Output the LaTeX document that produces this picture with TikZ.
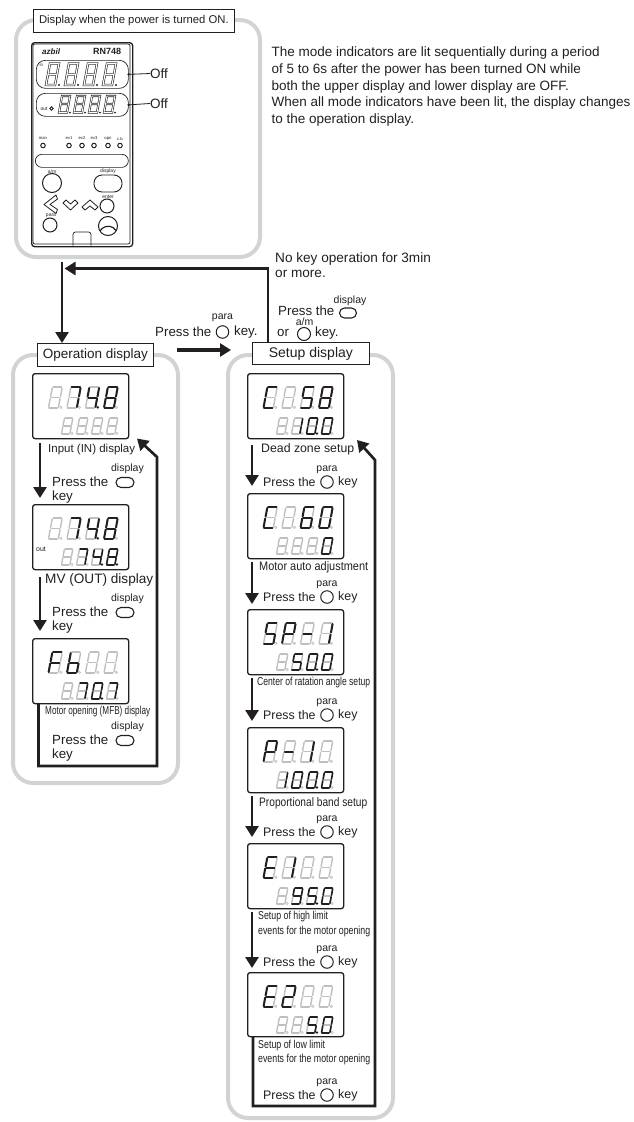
\documentclass[tikz,border=0pt]{standalone}
\usepackage{fontspec}
\usepackage{graphicx}
\setmainfont{Liberation Sans}
\usetikzlibrary{arrows.meta}
\definecolor{panelgray}{HTML}{D2D3D4}
\definecolor{ghost}{HTML}{BDBFC1}
\definecolor{inkk}{HTML}{231F20}
\def\sega{(.12,1)--(.95,1)}
\def\segb{(1.02,.95)--(1.01,.55)}
\def\segc{(1,.45)--(.98,.05)}
\def\segd{(.05,0)--(.88,0)}
\def\sege{(0,.05)--(.01,.45)}
\def\segf{(.02,.55)--(.04,.95)}
\def\segg{(.1,.5)--(.92,.5)}
\def\segp{(1.28,0) circle[radius=.09]}
% #1 x, #2 y (top-left), #3 w, #4 h, #5 slant, #6 lit segments, #7 lit width
\newcommand{\sdigit}[7]{%
  \begin{scope}[shift={(#1,#2+#4)},x={(#3pt,0pt)},y={(#5pt,#4pt)}]
    \foreach \s in {a,b,c,d,e,f,g}{%
      \expandafter\let\expandafter\curseg\csname seg\s\endcsname
      \draw[ghost,line width=1.4pt,line cap=round] \curseg;}
    \draw[ghost,line width=.6pt,fill=white] (1.22,.03) circle[x radius=1.2pt,y radius=1.2pt];
    \foreach \s in {#6}{%
      \expandafter\let\expandafter\curseg\csname seg\s\endcsname
      \ifx\curseg\segp
        \fill[inkk] (1.22,.03) circle[x radius=1.2pt,y radius=1.2pt];
      \else
        \draw[inkk,line width=#7pt,line cap=round] \curseg;
      \fi}
  \end{scope}}
\newcommand{\Up}[6]{%
  \sdigit{#1+16.5}{#2+14}{10}{21}{3.5}{#3}{2}%
  \sdigit{#1+35}{#2+14}{10}{21}{3.5}{#4}{2}%
  \sdigit{#1+53.5}{#2+14}{10}{21}{3.5}{#5}{2}%
  \sdigit{#1+72}{#2+14}{10}{21}{3.5}{#6}{2}}
\newcommand{\Lo}[6]{%
  \sdigit{#1+29.5}{#2+45}{8.5}{16}{2.6}{#3}{1.6}%
  \sdigit{#1+44.5}{#2+45}{8.5}{16}{2.6}{#4}{1.6}%
  \sdigit{#1+59.5}{#2+45}{8.5}{16}{2.6}{#5}{1.6}%
  \sdigit{#1+74.5}{#2+45}{8.5}{16}{2.6}{#6}{1.6}}
\newcommand{\fz}[1]{\fontsize{#1}{#1}\selectfont}
\newcommand{\fit}[3]{\resizebox{#1pt}{\height}{\fz{#2}#3}}
\tikzset{
  x=1pt,y=-1pt,
  panel/.style={draw=panelgray,line width=4pt,rounded corners=20pt},
  labelbox/.style={draw=inkk,line width=.8pt,fill=white,inner sep=0pt,text=inkk},
  dbox/.style={draw=inkk,line width=1.3pt,rounded corners=2.5pt,minimum width=96pt,inner sep=0pt,fill=white},
  txt/.style={text=inkk,inner sep=0pt,anchor=west},
  ctxt/.style={text=inkk,inner sep=0pt,anchor=center},
  key/.style={draw=inkk,line width=1pt,circle,inner sep=0pt,minimum size=#1pt},
  pillkey/.style={draw=inkk,line width=1.1pt,rounded corners=5pt,inner sep=0pt,minimum width=17pt,minimum height=10pt},
  flow/.style={draw=inkk,line width=2.7pt,-{Triangle[length=11pt,width=13pt]},line join=miter},
  dev/.style={draw=inkk,line width=.7pt},
  tiny/.style={text=inkk,inner sep=0pt,font=\fz{5}},
}
\begin{document}
\begin{tikzpicture}
\useasboundingbox (0,0) rectangle (634,1122);
% panels
\draw[panel] (16,20) rectangle (260,257);
\draw[panel] (13,355) rectangle (178,783);
\draw[panel] (228,355) rectangle (393,1118);
% panel titles
\node[labelbox,minimum width=201pt,minimum height=23pt,anchor=north west,font=\fz{11.3}] (ttop) at (33,9) {Display when the power is turned ON.};
\node[labelbox,minimum width=116pt,minimum height=23pt,anchor=north west,font=\fz{13.5}] (top) at (37,343) {Operation display};
\node[labelbox,minimum width=117pt,minimum height=22pt,anchor=north west,font=\fz{14}] (tset) at (252,342) {Setup display};
% device
\node[draw=inkk,line width=1.3pt,rounded corners=3pt,minimum width=101pt,minimum height=204pt,anchor=north west,inner sep=0pt] (device) at (31,42) {};
\draw[dev,rounded corners=2pt] (33,44) rectangle (130,244);
\node[txt,font=\fz{8}\bfseries\itshape] (azbil) at (42,51.5) {azbil};
\node[txt,font=\fz{9}\bfseries] (rn) at (93,51.5) {RN748};
\node[dev,rounded corners=9pt,minimum width=92pt,minimum height=28pt,anchor=north west,inner sep=0pt] (updisp) at (36,60) {};
\node[dev,rounded corners=9pt,minimum width=92pt,minimum height=23pt,anchor=north west,inner sep=0pt] (lodisp) at (36,93) {};
\foreach \xx in {45,64,83,102}{\draw[inkk,line width=.6pt,double=white,double distance=1.1pt]
  (\xx+1,85)--(\xx+10,85)--(\xx+14,63.5)--(\xx+5,63.5)--cycle (\xx+3,74.5)--(\xx+12,74.5);
  \fill[inkk] (\xx+14,85) circle[radius=1.2];}
\foreach \xx in {58,73,88,103}{\draw[inkk,line width=.6pt,double=white,double distance=.9pt]
  (\xx+1,112.5)--(\xx+9,112.5)--(\xx+12,96)--(\xx+4,96)--cycle (\xx+2.5,104)--(\xx+10.5,104);
  \fill[inkk] (\xx+12,112.5) circle[radius=1];}
\node[tiny,font=\fz{4.5}] (lin) at (41.5,65) {in};
\node[tiny,font=\fz{5}] (lout) at (44,109) {out};
\node[key=3.5] (lo) at (51.5,108.5) {};
\node[txt,font=\fz{13.5}] (off1) at (150,73.5) {Off};
\node[txt,font=\fz{13.5}] (off2) at (150,103.5) {Off};
\draw[inkk,line width=.8pt] (updisp.east) -- (off1.west);
\draw[inkk,line width=.8pt] (lodisp.east) -- (off2.west);
\fill[inkk] (updisp.east) circle[radius=1.4] (lodisp.east) circle[radius=1.4];
\foreach \n/\xx/\tt in {man/43/man,eva/69/ev1,evb/82/ev2,evc/94/ev3,opn/108/opn,cb/120/c.b}{
  \node[tiny,font=\fz{4.2}] (t\n) at (\xx,138.5) {\tt};
  \node[key=4.5] (i\n) at (\xx,145.5) {};
}
\node[dev,rounded corners=6.5pt,minimum width=93pt,minimum height=13pt,anchor=north west,inner sep=0pt] (msg) at (35,154) {};
\node[tiny] (tam) at (52,171.5) {a/m};
\node[key=19] (kam) at (52,183) {};
\node[tiny] (tdisp) at (108,171.5) {display};
\node[draw=inkk,line width=.9pt,rounded corners=8pt,minimum width=28pt,minimum height=17pt,inner sep=0pt] (kdisp) at (108,183.5) {};
\draw[inkk,line width=.8pt,line join=round] (56,195)--(44,204.5)--(56,213.5)--(57.5,209.5)--(50,204.5)--(57.5,199)--cycle;
\draw[inkk,line width=.8pt,line join=round] (63,203)--(70.5,210)--(78,203)--(75,200)--(70.5,204)--(66,200)--cycle;
\draw[inkk,line width=.8pt,line join=round] (82,207)--(90,200)--(98,207)--(95,210)--(90,206)--(85,210)--cycle;
\node[tiny] (tent) at (108,196.5) {enter};
\node[key=14] (kent) at (107,206) {};
\node[tiny] (tpara) at (51,216) {para};
\node[key=14] (kpara) at (50,225) {};
\node[key=19] (kbig) at (108,226) {};
\draw[inkk,line width=1.2pt] (100,231) arc[start angle=210,end angle=330,radius=9.5];
\draw[dev,rounded corners=2.5pt] (73,245.5)--(73,232)--(91,232)--(91,245.5);
% description
\node[txt,font=\fz{13.5}] (d1) at (271.5,53.3) {The mode indicators are lit sequentially during a period};
\node[txt,font=\fz{13.5}] (d2) at (271.5,70) {of 5 to 6s after the power has been turned ON while};
\node[txt,font=\fz{13.5}] (d3) at (271.5,86.7) {both the upper display and lower display are OFF.};
\node[txt,font=\fz{13.5}] (d4) at (271.5,103.3) {When all mode indicators have been lit, the display changes};
\node[txt,font=\fz{13.5}] (d5) at (271.5,120) {to the operation display.};
% main arrows and their texts
\coordinate (mstart) at (62,261.5);
\coordinate (mturn) at (268,268.5);
\coordinate (mback) at (64.5,268.5);
\draw[flow] (mstart) -- (62,343);
\draw[flow] (tset.north -| mturn) -- (mturn) -- (mback);
\coordinate (parastart) at (177,350);
\coordinate (paraend) at (231,350);
\draw[flow,line width=3.6pt] (parastart) -- (paraend);
\node[txt,font=\fz{13.6}] (n1) at (275,258.5) {No key operation for 3min};
\node[txt,font=\fz{13.6}] (n2) at (275,274) {or more.};
\node[txt,font=\fz{13.3}] (pa) at (155,332) {Press the};
\node[ctxt,font=\fz{10.5}] (pa2) at (222.5,318) {para};
\node[key=12.5] (pa3) at (222.5,332) {};
\node[txt,font=\fz{13.3}] (pa4) at (234,332) {key.};
\node[txt,font=\fz{13.3}] (pd) at (278,311) {Press the};
\node[ctxt,font=\fz{10.5}] (pd2) at (350,301) {display};
\node[pillkey] (pd3) at (348,313) {};
\node[ctxt,font=\fz{10.5}] (pd4) at (304.5,322) {a/m};
\node[txt,font=\fz{13.3}] (pd5) at (277,333) {or};
\node[key=13] (pd6) at (304,334) {};
\node[txt,font=\fz{13.3}] (pd7) at (315,333) {key.};
% operation frames
\node[dbox,minimum height=65pt,anchor=north west] (o1) at (32,373) {};
\Up{32}{373}{n}{a,b,c}{b,c,f,g,p}{a,b,c,d,e,f,g}
\Lo{32}{373}{n}{n}{n}{n}
\node[dbox,minimum height=65pt,anchor=north west] (o2) at (32,504) {};
\Up{32}{504}{n}{a,b,c}{b,c,f,g,p}{a,b,c,d,e,f,g}
\Lo{32}{504}{n}{a,b,c}{b,c,f,g,p}{a,b,c,d,e,f,g,p}
\node[tiny,font=\fz{7}] (oout) at (41,549) {out};
\node[dbox,minimum height=65pt,anchor=north west] (o3) at (32,638) {};
\Up{32}{638}{a,e,f,g}{c,d,e,f,g}{n}{n}
\Lo{32}{638}{n}{a,b,c}{a,b,c,d,e,f,p}{a,b,c}
\node[txt,font=\fz{11.5}] (ol1) at (48,450) {Input (IN) display};
\node[txt,font=\fz{13.6}] (ol2) at (45,579.5) {MV (OUT) display};
\node[txt] (ol3) at (45,712) {\fit{105}{11.5}{Motor opening (MFB) display}};
\foreach \yy/\nm in {0/a,130/b,258/c}{
  \node[ctxt,font=\fz{10.5}] (odl\nm) at (127.5,469+\yy) {display};
  \node[txt,font=\fz{13.3}] (opr\nm) at (52,482+\yy) {Press the};
  \node[pillkey,minimum width=18pt] (opk\nm) at (125,482.5+\yy) {};
  \node[txt,font=\fz{13.3}] (oke\nm) at (52,497+\yy) {key};
}
\coordinate (oa1s) at (40,443); \coordinate (oa1e) at (40,498);
\coordinate (oa2s) at (40,577); \coordinate (oa2e) at (40,631);
\draw[flow] (oa1s) -- (oa1e);
\draw[flow] (oa2s) -- (oa2e);
\coordinate (ors) at (38.5,703);
\coordinate (orb) at (38.5,766);
\coordinate (orc) at (157,766);
\coordinate (ord) at (157,457);
\coordinate (ore) at (137,438.5);
\draw[flow] (ors) -- (orb) -- (orc) -- (ord) -- (ore);
% setup frames
\foreach \yy/\hh/\nm in {373/65/s1,493/65/s2,609/65/s3,727/65/s4,843/65/s5,972/64/s6}{
  \node[dbox,minimum height=\hh pt,anchor=north west] (\nm) at (247,\yy) {};
}
\Up{247}{373}{a,d,e,f}{n}{a,c,d,f,g}{a,b,c,d,e,f,g}
\Lo{247}{373}{n}{b,c}{a,b,c,d,e,f,p}{a,b,c,d,e,f}
\Up{247}{493}{a,d,e,f}{n}{a,c,d,e,f,g}{a,b,c,d,e,f}
\Lo{247}{493}{n}{n}{n}{a,b,c,d,e,f}
\Up{247}{609}{a,c,d,f,g}{a,b,e,f,g}{g}{b,c}
\Lo{247}{609}{n}{a,c,d,f,g}{a,b,c,d,e,f,p}{a,b,c,d,e,f}
\Up{247}{727}{a,b,e,f,g}{g}{b,c}{n}
\Lo{247}{727}{b,c}{a,b,c,d,e,f}{a,b,c,d,e,f,p}{a,b,c,d,e,f}
\Up{247}{843}{a,d,e,f,g}{b,c}{n}{n}
\Lo{247}{843}{n}{a,b,c,d,f,g}{a,c,d,f,g,p}{a,b,c,d,e,f}
\Up{247}{972}{a,d,e,f,g}{a,b,d,e,g}{n}{n}
\Lo{247}{972}{n}{n}{a,c,d,f,g,p}{a,b,c,d,e,f}
\node[txt,font=\fz{12.3}] (sl1) at (261,449) {Dead zone setup};
\node[txt] (sl2) at (259,567) {\fit{109}{12.3}{Motor auto adjustment}};
\node[txt] (sl3) at (257,683) {\fit{113}{11.5}{Center of ratation angle setup}};
\node[txt] (sl4) at (259,803) {\fit{108}{12.3}{Proportional band setup}};
\node[txt] (sl5) at (258,917) {\fit{70}{11.5}{Setup of high limit}};
\node[txt] (sl5b) at (258,932) {\fit{112}{11.5}{events for the motor opening}};
\node[txt] (sl6) at (258,1046) {\fit{67}{11.5}{Setup of low limit}};
\node[txt] (sl6b) at (258,1060) {\fit{112}{11.5}{events for the motor opening}};
\foreach \yy/\nm in {482/a,597/b,715/c,832/d,962/e,1095/f}{
  \node[ctxt,font=\fz{10.5}] (sp\nm) at (327,\yy-12.5) {para};
  \node[txt,font=\fz{12.4}] (st\nm) at (263,\yy) {Press the};
  \node[key=12.5] (sk\nm) at (327,\yy) {};
  \node[txt,font=\fz{12.4}] (se\nm) at (338,\yy) {key};
}
\foreach \a/\b/\nm in {445/486/a,562/604/b,678/721/c,796/837/d,912/968/e}{
  \coordinate (sa\nm s) at (252,\a);
  \coordinate (sa\nm e) at (252,\b);
  \draw[flow] (sa\nm s) -- (sa\nm e);
}
\coordinate (srs) at (253,1036);
\coordinate (srb) at (253,1106);
\coordinate (src) at (375,1106);
\coordinate (srd) at (375,460);
\coordinate (sre) at (357,440);
\draw[flow] (srs) -- (srb) -- (src) -- (srd) -- (sre);
\end{tikzpicture}
\end{document}
